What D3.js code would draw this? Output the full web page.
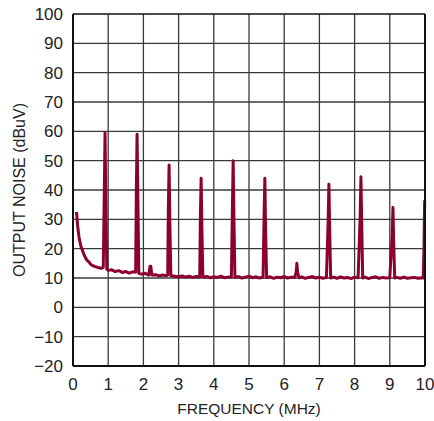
<!DOCTYPE html>
<html>
<head>
<meta charset="utf-8">
<script src="https://cdn.jsdelivr.net/npm/d3@7"></script>
<style>
  body { margin: 0; background: #fff; }
  text { font-family: "Liberation Sans", Arial, Helvetica, sans-serif; fill: #222; }
</style>
</head>
<body>
<script>
// ticks
const xTicks = [0, 1, 2, 3, 4, 5, 6, 7, 8, 9, 10];
const yTicks = [-20, -10, 0, 10, 20, 30, 40, 50, 60, 70, 80, 90, 100];

// measured trace, frequency in MHz and noise in dBuV
const freqMHz = [
  0.1, 0.13, 0.17, 0.22, 0.28, 0.33, 0.4, 0.45, 0.5, 0.55, 0.6, 0.7, 0.8, 0.86,
  0.89, 0.91, 0.93, 0.96, 1.0, 1.1, 1.2, 1.3, 1.4, 1.5, 1.6, 1.7, 1.78,
  1.80, 1.82, 1.84, 1.87, 1.95, 2.05, 2.15, 2.19, 2.21, 2.24, 2.35, 2.45, 2.55, 2.65, 2.69,
  2.71, 2.73, 2.75, 2.78, 2.9, 3.0, 3.1, 3.2, 3.3, 3.4, 3.5, 3.6,
  3.62, 3.64, 3.66, 3.69, 3.8, 3.9, 4.0, 4.1, 4.2, 4.3, 4.4, 4.5,
  4.53, 4.55, 4.57, 4.6, 4.7, 4.8, 4.9, 5.0, 5.1, 5.2, 5.3, 5.4,
  5.43, 5.45, 5.47, 5.5, 5.6, 5.7, 5.8, 5.9, 6.0, 6.1, 6.2, 6.3,
  6.34, 6.36, 6.38, 6.42, 6.5, 6.6, 6.7, 6.8, 6.9, 7.0, 7.1, 7.2,
  7.25, 7.27, 7.29, 7.32, 7.4, 7.5, 7.6, 7.7, 7.8, 7.9, 8.0, 8.1,
  8.16, 8.18, 8.2, 8.23, 8.3, 8.4, 8.5, 8.6, 8.7, 8.8, 8.9, 9.0,
  9.07, 9.09, 9.11, 9.14, 9.2, 9.3, 9.4, 9.5, 9.6, 9.7, 9.8, 9.9, 9.95, 9.97, 9.99
];
const noiseDb = [
  32.5, 28, 24, 21, 19, 17.5, 16, 15.5, 14.7, 14.3, 14, 13.6, 13.3, 13.6,
  40, 59.5, 40, 13, 12.6, 12.8, 12.2, 12.5, 11.9, 12.2, 11.7, 12.1, 12,
  40, 59, 40, 11.6, 11.3, 11.6, 11, 14, 14, 11, 11.1, 10.7, 11, 10.8, 11,
  35, 48.5, 30, 10.8, 10.6, 10.4, 10.7, 10.3, 10.6, 10.2, 10.5, 10.4,
  32, 44, 28, 10.3, 10.5, 10.1, 10.4, 10.2, 10.6, 10.1, 10.3, 10.4,
  35, 50, 32, 10.2, 10.5, 10, 10.3, 10.6, 10.1, 10.4, 10, 10.3,
  32, 44, 28, 10.2, 10.4, 9.9, 10.3, 10.1, 10.5, 10, 10.3, 10.2,
  12, 15, 12, 10.1, 10.4, 9.9, 10.2, 10.5, 10, 10.3, 9.9, 10.2,
  30, 42, 28, 10, 10.3, 9.9, 10.4, 10, 10.2, 9.8, 10.3, 10.1,
  32, 44.5, 30, 10, 10.3, 9.8, 10.2, 10.4, 9.9, 10.2, 10, 10.1,
  25, 34, 22, 10, 10.2, 9.9, 10.3, 9.9, 10.1, 10.2, 9.9, 10.1, 10, 20, 36.5
];

const W = 434, H = 421;
const margin = { top: 14, right: 9, bottom: 55, left: 73 };
const width = W - margin.left - margin.right,
  height = H - margin.top - margin.bottom;

const svg = d3.select("body")
  .append("svg")
  .attr("width", W)
  .attr("height", H);

const g = svg.append("g")
  .attr("transform", "translate(" + margin.left + "," + margin.top + ")");

const x = d3.scaleLinear().domain([0, 10]).range([0, width]);
const y = d3.scaleLinear().domain([-20, 100]).range([height, 0]);

// grid
g.append("g")
  .selectAll("line")
  .data(xTicks.slice(1, -1))
  .enter()
  .append("line")
  .attr("x1", d => x(d)).attr("x2", d => x(d))
  .attr("y1", 0).attr("y2", height)
  .attr("stroke", "#3a3a3a")
  .attr("stroke-width", 1.3);

g.append("g")
  .selectAll("line")
  .data(yTicks.slice(1, -1))
  .enter()
  .append("line")
  .attr("x1", 0).attr("x2", width)
  .attr("y1", d => y(d)).attr("y2", d => y(d))
  .attr("stroke", "#3a3a3a")
  .attr("stroke-width", 1.3);

// trace
const pts = freqMHz.map((f, i) => [f, noiseDb[i]]);
const line = d3.line()
  .x(d => x(d[0]))
  .y(d => y(d[1]));

g.append("path")
  .datum(pts)
  .attr("fill", "none")
  .attr("stroke", "#8c0030")
  .attr("stroke-width", 3)
  .attr("stroke-linejoin", "round")
  .attr("d", line);

// frame
g.append("line").attr("x1", 0).attr("x2", width).attr("y1", 0).attr("y2", 0)
  .attr("stroke", "#111").attr("stroke-width", 1.5);
g.append("line").attr("x1", 0).attr("x2", 0).attr("y1", 0).attr("y2", height)
  .attr("stroke", "#111").attr("stroke-width", 2);
g.append("line").attr("x1", width).attr("x2", width).attr("y1", 0).attr("y2", height)
  .attr("stroke", "#111").attr("stroke-width", 2);
g.append("line").attr("x1", 0).attr("x2", width).attr("y1", height).attr("y2", height)
  .attr("stroke", "#111").attr("stroke-width", 2.2);

// tick labels
g.append("g")
  .selectAll("text")
  .data(yTicks)
  .enter()
  .append("text")
  .attr("x", -10)
  .attr("y", d => y(d))
  .attr("dy", "0.36em")
  .attr("text-anchor", "end")
  .style("font-size", "17px")
  .text(d => d < 0 ? "\u2212" + Math.abs(d) : d);

g.append("g")
  .selectAll("text")
  .data(xTicks)
  .enter()
  .append("text")
  .attr("x", d => x(d))
  .attr("y", height + 24)
  .attr("text-anchor", "middle")
  .style("font-size", "17px")
  .text(d => d);

// axis titles
svg.append("text")
  .attr("x", margin.left + width / 2)
  .attr("y", 414)
  .attr("text-anchor", "middle")
  .style("font-size", "15.5px")
  .text("FREQUENCY (MHz)");

svg.append("text")
  .attr("transform", "translate(25," + (margin.top + height / 2) + ") rotate(-90)")
  .attr("text-anchor", "middle")
  .style("font-size", "16px")
  .text("OUTPUT NOISE (dBuV)");
</script>
</body>
</html>
